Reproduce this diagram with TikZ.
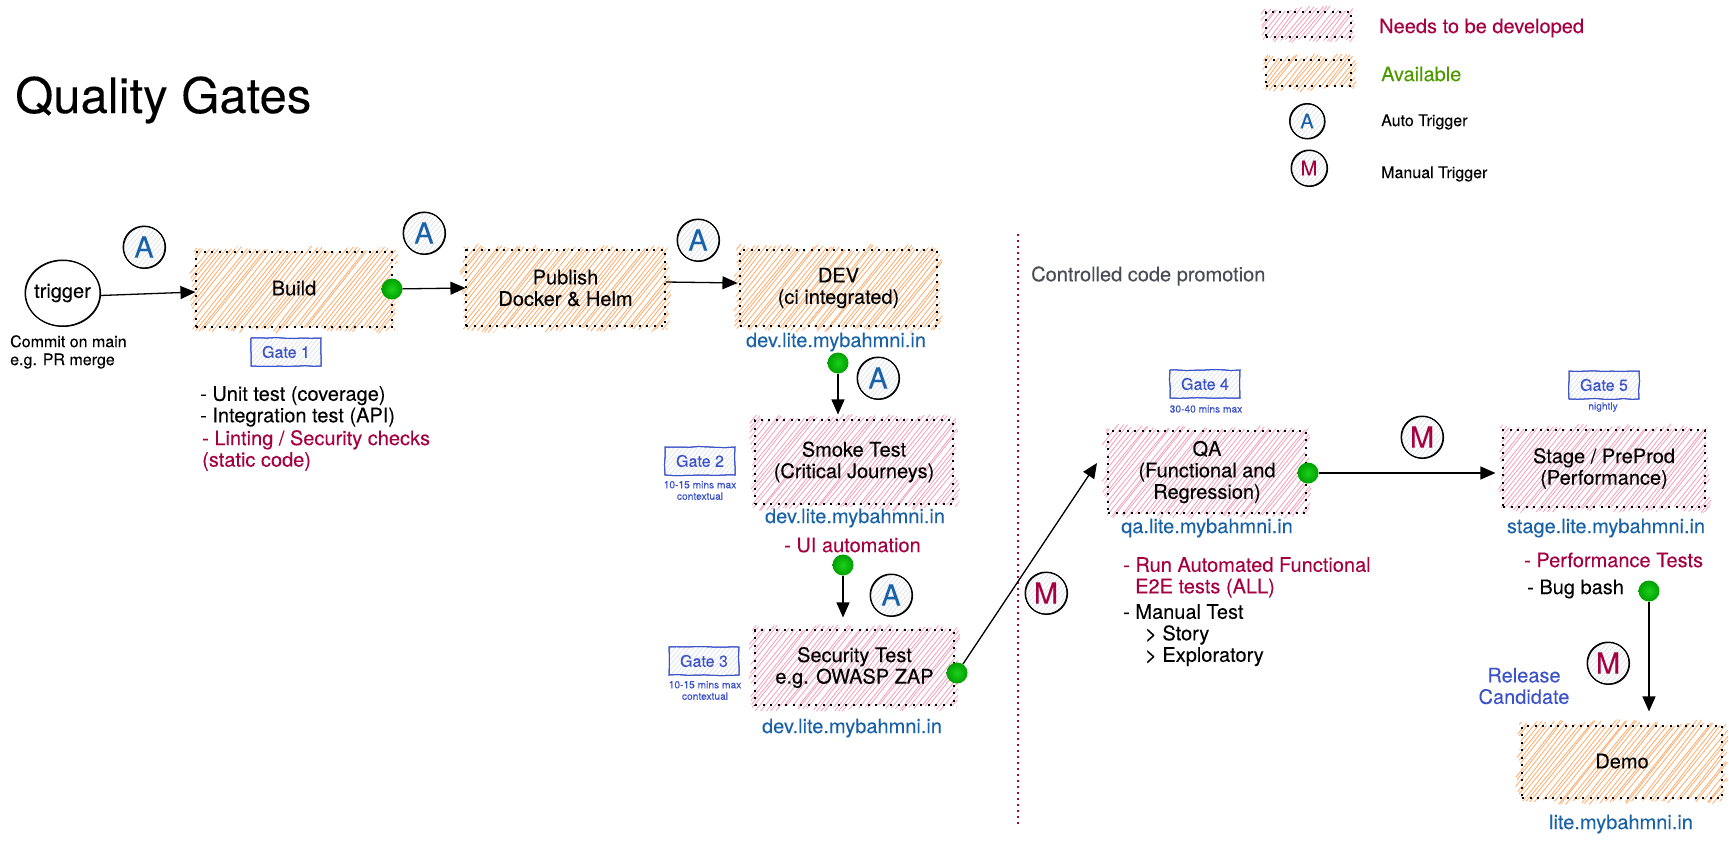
\documentclass[tikz,border=0pt]{standalone}
\usepackage{fontspec}
\setmainfont[FakeBold=0.12]{TeX Gyre Heros}
\usetikzlibrary{arrows.meta,shapes.geometric,patterns.meta,decorations.pathmorphing}

\definecolor{needred}{HTML}{A50040}
\definecolor{availgreen}{HTML}{4D9900}
\definecolor{urlblue}{HTML}{1A62A8}
\definecolor{gateblue}{HTML}{3B52C8}
\definecolor{hatchpink}{HTML}{F5A3BD}
\definecolor{hatchorange}{HTML}{FFAE72}
\definecolor{hatchgrey}{HTML}{D8DFE6}
\definecolor{notegrey}{HTML}{4A4D57}
\definecolor{dotlight}{HTML}{1CD01C}
\definecolor{dotdark}{HTML}{00A000}

\tikzset{
	body/.style={font=\fontsize{20}{21.5}\selectfont, inner sep=0pt},
	url/.style={body, text=urlblue},
	todo/.style={body, text=needred, align=left},
	done/.style={body, align=left},
	small/.style={font=\fontsize{16}{18}\selectfont, inner sep=0pt, align=left},
	tiny/.style={font=\fontsize{10.2}{11.5}\selectfont, inner sep=0pt, text=gateblue, align=center},
	stage/.style={draw, line width=1.1pt, dash pattern=on 2pt off 5.5pt, body, align=center},
	wobble/.style={decorate, decoration={random steps, segment length=9pt, amplitude=0.6pt}},
	sketchline/.style={postaction={draw, transform canvas={xshift=0.6pt, yshift=-0.5pt}}},
	badge/.style={circle, draw, line width=1pt, minimum size=42pt, inner sep=0pt,
		pattern={Lines[angle=50, distance=3.5pt, line width=0.6pt]}, pattern color=hatchgrey,
		sketchline, font=\fontsize{29}{29}\selectfont},
	auto/.style={badge, text=urlblue},
	manual/.style={badge, text=needred},
	gate/.style={draw=gateblue, line width=1pt, minimum width=70pt, minimum height=28pt, inner sep=0pt,
		pattern={Lines[angle=50, distance=3.5pt, line width=0.6pt]}, pattern color=hatchgrey, wobble,
		postaction={draw=gateblue, wobble}, text=gateblue, font=\fontsize{16}{17}\selectfont},
	dot/.style={circle, minimum size=21pt, inner sep=0pt, inner color=dotlight, outer color=dotdark},
	flow/.style={draw, line width=1.3pt, -{Triangle[length=15pt, width=13pt]}},
}

% name, x0, y0, x1, y1, colour, text
\newcommand{\stagebox}[7]{
	\begin{scope}
		\clip[decorate, decoration={random steps, segment length=6pt, amplitude=4pt}]
			(#2-3, #3-3) -- (#4+3, #3-3) -- (#4+3, #5+3) -- (#2-3, #5+3) -- cycle;
		\pgfmathsetmacro\hatchfirst{#2-(#5-#3+20)*0.8}
		\pgfmathsetmacro\hatchnext{\hatchfirst+4.6}
		\foreach \s in {\hatchfirst, \hatchnext, ..., #4}
			\draw[#6, line width=0.85pt] (\s+2*rand, #5+10) -- (\s+2*rand+0.8*#5-0.8*#3+16, #3-10);
	\end{scope}
	\node[stage, minimum width={(#4-#2)*1pt}, minimum height={(#5-#3)*1pt}] (#1) at ({(#2+#4)/2}, {(#3+#5)/2}) {#7};
}

\begin{document}
\begin{tikzpicture}[x=1pt, y=-1pt]
	\useasboundingbox (0, 0) rectangle (1729, 843);
	\pgfmathsetseed{11}

	\node[font=\fontsize{49}{50}\selectfont, inner sep=0pt, anchor=base west] (title) at (15, 113) {Quality Gates};

	\stagebox{legendneed}{1266}{12}{1351}{37}{hatchpink}{}
	\stagebox{legendavail}{1266}{60}{1351}{86}{hatchorange}{}
	\node[body, text=needred, anchor=west] (needtext) at (1379, 28) {Needs to be developed};
	\node[body, text=availgreen, anchor=west] (availtext) at (1381, 74) {Available};
	\node[auto, minimum size=35pt, font=\fontsize{20}{20}\selectfont] (legendauto) at (1307, 121) {A};
	\node[manual, minimum size=36pt, font=\fontsize{20}{20}\selectfont] (legendmanual) at (1309, 168) {M};
	\node[small, anchor=west] (autotext) at (1381, 122) {Auto Trigger};
	\node[small, anchor=west] (manualtext) at (1381, 174) {Manual Trigger};

	\node[ellipse, draw, line width=1pt, body, minimum width=75pt, minimum height=66pt, inner xsep=-14pt, inner ysep=-4pt,
		sketchline] (trigger) at (62.5, 293) {trigger};
	\node[small, anchor=north west] (commit) at (10, 335) {Commit on main\\e.g. PR merge};

	\stagebox{build}{196}{252}{392}{327}{hatchorange}{\raisebox{3pt}{Build}}
	\stagebox{publish}{466}{250}{665}{326}{hatchorange}{Publish\\Docker \& Helm}
	\stagebox{dev}{740}{250}{937}{326}{hatchorange}{DEV\\(ci integrated)}
	\stagebox{smoke}{755}{420}{953}{504}{hatchpink}{Smoke Test\\(Critical Journeys)}
	\stagebox{security}{755}{630}{954}{705}{hatchpink}{Security Test\\e.g. OWASP ZAP}
	\stagebox{qa}{1108}{431}{1306}{513}{hatchpink}{QA\\(Functional and\\Regression)}
	\stagebox{preprod}{1503}{430}{1705}{507}{hatchpink}{Stage / PreProd\\(Performance)}
	\stagebox{demo}{1522}{726}{1722}{798}{hatchorange}{\raisebox{2pt}{Demo}}

	\node[auto] (autoa) at (144, 247) {A};
	\node[auto] (autob) at (424, 233) {A};
	\node[auto] (autoc) at (698, 240) {A};
	\node[auto] (autod) at (878, 378) {A};
	\node[auto] (autoe) at (891, 595) {A};
	\node[manual] (manuala) at (1046, 593) {M};
	\node[manual] (manualb) at (1422, 437) {M};
	\node[manual] (manualc) at (1608, 663) {M};

	\node[gate] (gatea) at (286, 352) {Gate 1};
	\node[gate] (gateb) at (700, 461) {Gate 2};
	\node[gate] (gatec) at (704, 661) {Gate 3};
	\node[gate] (gated) at (1205, 384) {Gate 4};
	\node[gate] (gatee) at (1604, 385) {Gate 5};
	\node[tiny] (noteb) at (700, 490.5) {10-15 mins max\\contextual};
	\node[tiny] (notec) at (705, 690.5) {10-15 mins max\\contextual};
	\node[tiny] (noted) at (1206, 409) {30-40 mins max};
	\node[tiny] (notee) at (1603, 407) {nightly};

	\node[url] (urldev) at (836, 342) {dev.lite.mybahmni.in};
	\node[url] (urlsmoke) at (855, 518) {dev.lite.mybahmni.in};
	\node[url] (urlsecurity) at (852, 728) {dev.lite.mybahmni.in};
	\node[url] (urlqa) at (1207, 528) {qa.lite.mybahmni.in};
	\node[url] (urlstage) at (1606, 528) {stage.lite.mybahmni.in};
	\node[url] (urldemo) at (1621, 824) {lite.mybahmni.in};

	\node[done, anchor=north west] (buildtests) at (200, 386) {- Unit test (coverage)\\- Integration test (API)};
	\node[todo, anchor=north west] (buildtodo) at (202, 430) {- Linting / Security checks\\(static code)};
	\node[todo, anchor=west] (uitext) at (784, 545) {- UI automation};
	\node[todo, anchor=north west] (qatodo) at (1123, 557) {- Run Automated Functional\\\hspace*{12pt}E2E tests (ALL)};
	\node[done, anchor=north west] (qatests) at (1123, 604) {- Manual Test\\\hspace*{22pt}> Story\\\hspace*{22pt}> Exploratory};
	\node[todo, anchor=west] (perftext) at (1524, 560) {- Performance Tests};
	\node[done, anchor=west] (bugtext) at (1527, 589) {- Bug bash};
	\node[body, text=gateblue, align=center] (release) at (1524, 686) {Release\\Candidate};

	\node[body, text=notegrey, anchor=west] (promotion) at (1031, 276) {Controlled code promotion};
	\coordinate (linetop) at (1018, 234);
	\coordinate (linebottom) at (1018, 826);
	\draw[needred, line width=1.3pt, dash pattern=on 1.5pt off 4.5pt] (linetop) -- (linebottom);

	\node[dot] (dotbuild) at (392, 289) {};
	\node[dot] (dotdev) at (838, 363) {};
	\node[dot] (dotsmoke) at (843, 565) {};
	\node[dot] (dotsecurity) at (957, 673) {};
	\node[dot] (dotqa) at (1308, 473) {};
	\node[dot] (dotstage) at (1649, 591) {};
	\coordinate (qaentry) at (1097, 463);

	\draw[flow] ([yshift=-2.5pt]trigger.east) -- ([yshift=-2.5pt]build.west);
	\draw[flow] (dotbuild) -- (publish.west);
	\draw[flow, shorten >=2pt] ([yshift=6pt]publish.east) -- ([yshift=5pt]dev.west);
	\draw[flow, shorten >=5pt] (dotdev) -- (dotdev |- smoke.north);
	\draw[flow, shorten >=12pt] (dotsmoke) -- (dotsmoke |- security.north);
	\draw[flow] (dotsecurity) -- (qaentry);
	\draw[flow, shorten >=7pt] (dotqa) -- (dotqa -| preprod.west);
	\draw[flow, shorten >=14pt] (dotstage) -- (dotstage |- demo.north);
\end{tikzpicture}
\end{document}
